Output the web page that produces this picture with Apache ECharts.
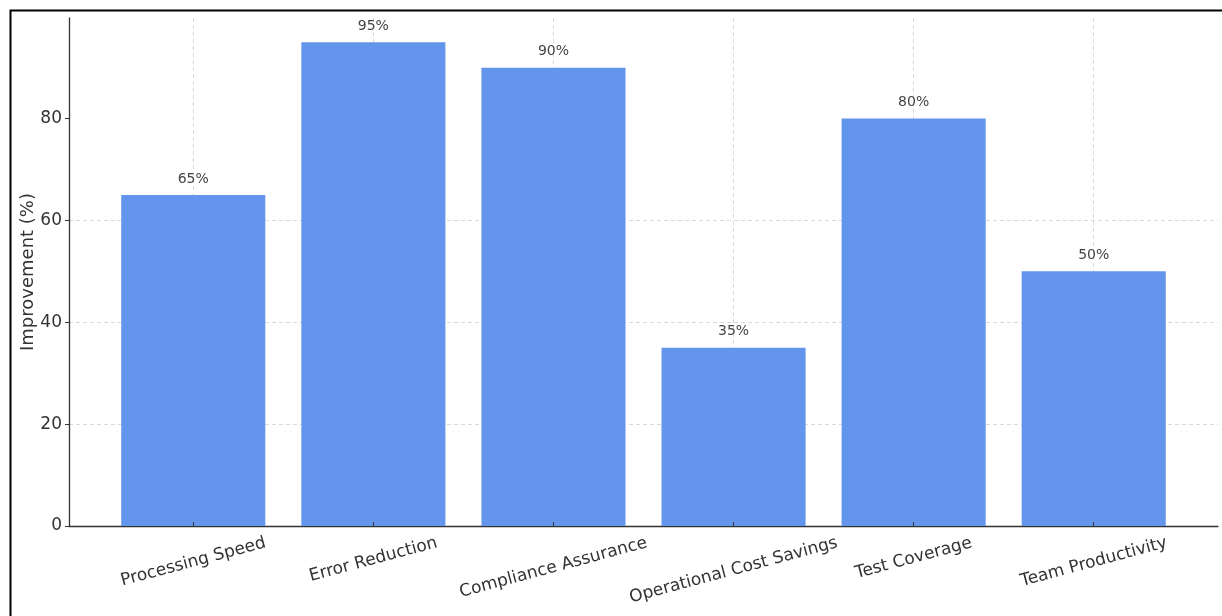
<!DOCTYPE html>
<html>
<head>
<meta charset="utf-8">
<script src="https://cdn.jsdelivr.net/npm/echarts@6/dist/echarts.min.js"></script>
<style>html,body{margin:0;padding:0;background:#fff}#c{width:1222px;height:616px}</style>
</head>
<body>
<div id="c"></div>
<script>
const categories = ["Processing Speed", "Error Reduction", "Compliance Assurance", "Operational Cost Savings", "Test Coverage", "Team Productivity"];
const improvement = [65, 95, 90, 35, 80, 50];
const yTicks = [0, 20, 40, 60, 80];
const yAxisName = "Improvement (%)";

const font = "DejaVu Sans";
const TOP = 18, BOTTOM = 90, L = 69, R = 4;
// matplotlib-like x margins: band of 6 categories inside xlim [-0.69, 5.69]
const span = 1222 - L - R;
const unit = span / 6.38;
const innerL = L + 0.19 * unit, innerR = R + 0.19 * unit;
const centerL = L + 0.69 * unit, centerR = R + 0.69 * unit;
const YMAX = 99.75;
const gridLine = {color: '#d0d0d0', type: [4, 3], width: 0.8};

// rotated labels: keep the top of each rotated box fixed and centred on the tick (matplotlib style)
const ROT = 15 * Math.PI / 180, LABEL_FS = 17, LABEL_LH = 20;
const LABEL_MARGIN = 4, LABEL_TOP_GAP = 7; // rotated box top = axis + LABEL_TOP_GAP
const ctx = document.createElement('canvas').getContext('2d');
ctx.font = LABEL_FS + 'px "' + font + '"';
const catData = categories.map(c => {
  const w = ctx.measureText(c).width;
  const D = (LABEL_TOP_GAP - LABEL_MARGIN) + (w * Math.sin(ROT) + LABEL_LH * Math.cos(ROT)) / 2;
  const b = D * Math.cos(ROT);
  const p = Math.max(0, b - LABEL_LH / 2);
  const r = 2 * b * Math.tan(ROT);
  return {value: c, textStyle: {padding: [p, r, 0, 0], align: 'center', verticalAlign: 'top'}};
});

const gridBase = {top: TOP, bottom: BOTTOM, containLabel: false, outerBoundsMode: 'none'};

const chart = echarts.init(document.getElementById('c'));
chart.setOption({
  animation: false,
  backgroundColor: '#fff',
  graphic: [{
    type: 'rect', left: 8, top: 8, shape: {width: 1300, height: 700},
    style: {fill: 'none', stroke: '#000', lineWidth: 2}, silent: true, z: 100
  }],
  grid: [
    Object.assign({left: L, right: R}, gridBase),
    Object.assign({left: innerL, right: innerR}, gridBase),
    Object.assign({left: centerL, right: centerR}, gridBase)
  ],
  xAxis: [
    {gridIndex: 0, type: 'value', min: 0, max: 1, axisLine: {show: true, onZero: false, lineStyle: {color: '#333', width: 1.3}},
     axisTick: {show: false}, axisLabel: {show: false}, splitLine: {show: false}},
    {gridIndex: 1, type: 'category', data: catData, boundaryGap: true,
     axisLine: {show: false}, axisTick: {show: true, alignWithLabel: true, length: 4, inside: true, lineStyle: {color: '#333'}},
     axisLabel: {rotate: 15, align: 'center', verticalAlign: 'top', margin: LABEL_MARGIN, lineHeight: LABEL_LH,
       fontFamily: font, fontSize: LABEL_FS, color: '#333', interval: 0, hideOverlap: false},
     splitLine: {show: false}, z: 5},
    {gridIndex: 2, type: 'category', data: categories, boundaryGap: false,
     axisLine: {show: false}, axisTick: {show: false}, axisLabel: {show: false},
     splitLine: {show: true, interval: 0, lineStyle: gridLine}}
  ],
  yAxis: [
    {gridIndex: 0, type: 'value', min: 0, max: YMAX, interval: 20,
     name: yAxisName, nameLocation: 'middle', nameGap: 32, nameMoveOverlap: false,
     nameTextStyle: {fontFamily: font, fontSize: 18, color: '#333'},
     axisLine: {show: true, lineStyle: {color: '#333', width: 1.3}},
     axisTick: {show: true, length: 4, lineStyle: {color: '#333'}, customValues: yTicks},
     axisLabel: {fontFamily: font, fontSize: 17, color: '#333', margin: 7, customValues: yTicks},
     splitLine: {show: true, showMaxLine: false, showMinLine: false, lineStyle: gridLine}},
    {gridIndex: 1, type: 'value', min: 0, max: YMAX, show: false, splitLine: {show: false}},
    {gridIndex: 2, type: 'value', min: 0, max: YMAX, show: false, splitLine: {show: false}}
  ],
  series: [{
    type: 'bar', xAxisIndex: 1, yAxisIndex: 1, data: improvement, barWidth: '80%',
    itemStyle: {color: '#6495ED'}, z: 1,
    label: {show: true, position: 'top', distance: 9, formatter: p => p.value + '%', fontFamily: font, fontSize: 14, color: '#444'}
  }]
});
</script>
</body>
</html>
